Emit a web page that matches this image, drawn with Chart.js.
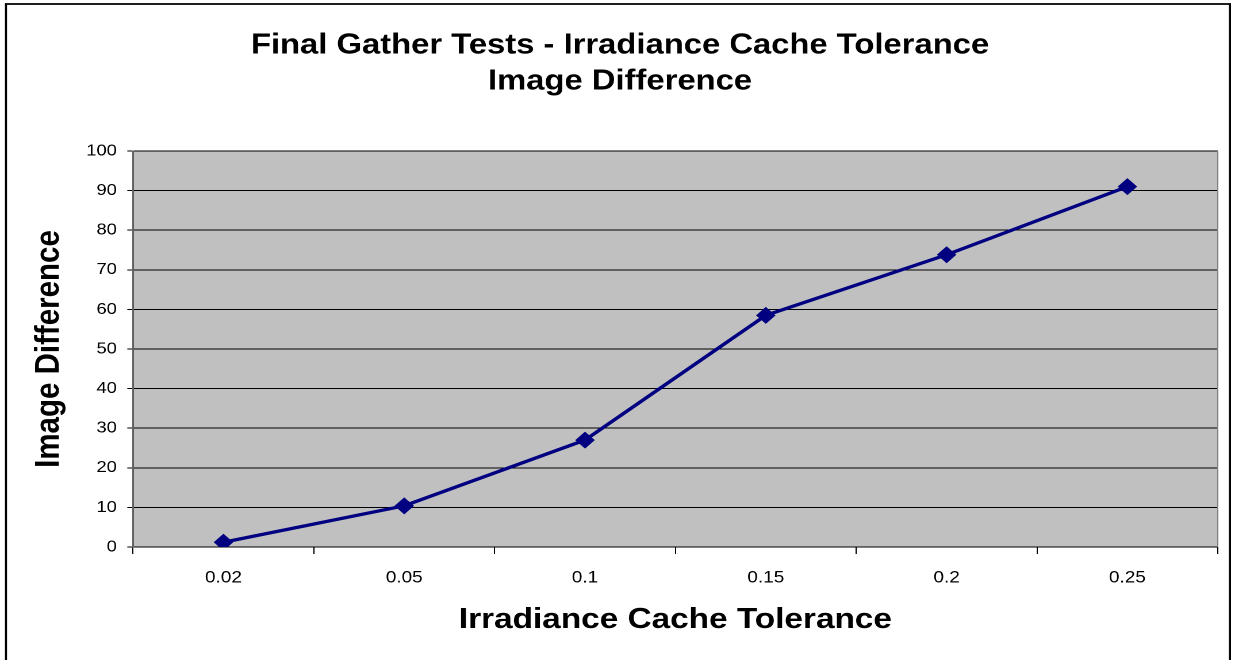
<!DOCTYPE html>
<html>
<head>
<meta charset="utf-8">
<script src="https://cdn.jsdelivr.net/npm/chart.js@4/dist/chart.umd.min.js"></script>
<style>
  html, body { margin: 0; padding: 0; background: #fff; }
  #wrap { width: 1235px; height: 660px; position: relative; overflow: hidden; background: #fff; }
  /* the chart is laid out 1074 px wide and widened to the 1235 px page */
  #chart { transform: scaleX(1.14991); transform-origin: 0 0; }
</style>
</head>
<body>
<div id="wrap"><canvas id="chart" width="1074" height="660"></canvas></div>
<script>
// Irradiance cache tolerance settings tested
const tolerances = ['0.02', '0.05', '0.1', '0.15', '0.2', '0.25'];
// Measured image difference for each tolerance
const imageDifference = [1.2, 10.4, 27.0, 58.5, 73.8, 91.0];
// Value axis range
const yMin = 0;
const yMax = 100;
const yStep = 10;

const titleLines = ['Final Gather Tests - Irradiance Cache Tolerance', 'Image Difference'];
const xTitle = 'Irradiance Cache Tolerance';
const yTitle = 'Image Difference';

const FONT = '"Liberation Sans", Arial, Helvetica, sans-serif';

// Grey plot background, plot border and outer frame
const framePlugin = {
  id: 'frame',
  beforeDraw(chart) {
    const { ctx, chartArea: a } = chart;
    ctx.save();
    ctx.fillStyle = '#ffffff';
    ctx.fillRect(0, 0, chart.width, chart.height);
    ctx.fillStyle = '#C0C0C0';
    ctx.fillRect(a.left, a.top, a.right - a.left, a.bottom - a.top);
    ctx.restore();
  },
  afterDatasetsDraw(chart) {
    const { ctx, chartArea: a } = chart;
    ctx.save();
    ctx.strokeStyle = '#808080';
    ctx.lineWidth = 1;
    ctx.beginPath();
    ctx.moveTo(a.right, a.top);
    ctx.lineTo(a.right, a.bottom);
    ctx.stroke();
    ctx.strokeStyle = '#000';
    ctx.lineWidth = 1.8;
    ctx.beginPath();
    ctx.moveTo(5.2, chart.height + 2);
    ctx.lineTo(5.2, 4);
    ctx.lineTo(1069.6, 4);
    ctx.lineTo(1069.6, chart.height + 2);
    ctx.stroke();
    ctx.restore();
  }
};

new Chart(document.getElementById('chart'), {
  type: 'line',
  data: {
    labels: tolerances,
    datasets: [{
      label: yTitle,
      data: imageDifference,
      borderColor: '#000080',
      backgroundColor: '#000080',
      borderWidth: 3.3,
      pointStyle: 'rectRot',
      pointRadius: 8.5,
      pointHoverRadius: 8.5,
      pointBackgroundColor: '#000080',
      pointBorderColor: '#000080',
      pointBorderWidth: 0,
      tension: 0,
      fill: false
    }]
  },
  options: {
    responsive: false,
    devicePixelRatio: 2,
    animation: false,
    events: [],
    layout: { padding: { left: 19.4, right: 15, top: 0, bottom: 0 } },
    plugins: {
      legend: { display: false },
      tooltip: { enabled: false },
      title: {
        display: true,
        text: titleLines,
        color: '#000',
        font: { family: FONT, size: 28.5, weight: 'bold', lineHeight: 36 / 28.5 },
        padding: { top: 27.8, bottom: 51.2 }
      }
    },
    scales: {
      x: {
        type: 'category',
        offset: true,
        afterFit(scale) { scale.height = 113; },
        grid: {
          offset: true,
          drawOnChartArea: false,
          drawTicks: true,
          tickLength: 7,
          color: '#000',
          lineWidth: 1
        },
        border: { display: true, color: '#000', width: 1 },
        ticks: {
          color: '#000',
          padding: 14,
          maxRotation: 0,
          font: { family: FONT, size: 16.5 }
        },
        title: {
          display: true,
          text: xTitle,
          color: '#000',
          font: { family: FONT, size: 29, weight: 'bold', lineHeight: 1.2 },
          padding: { top: 0, bottom: 22.6 }
        }
      },
      y: {
        min: yMin,
        max: yMax,
        afterFit(scale) { scale.width = 96.3; },
        grid: {
          color: '#000',
          lineWidth: 1,
          drawTicks: true,
          tickLength: 5
        },
        border: { display: true, color: '#606060', width: 1.5 },
        ticks: {
          stepSize: yStep,
          color: '#000',
          padding: 9,
          font: { family: FONT, size: 16 }
        },
        title: {
          display: true,
          text: yTitle,
          color: '#000',
          font: { family: FONT, size: 29.5, weight: 'bold', lineHeight: 1.2 },
          padding: { top: 5.6, bottom: 0 }
        }
      }
    }
  },
  plugins: [framePlugin]
});
</script>
</body>
</html>
